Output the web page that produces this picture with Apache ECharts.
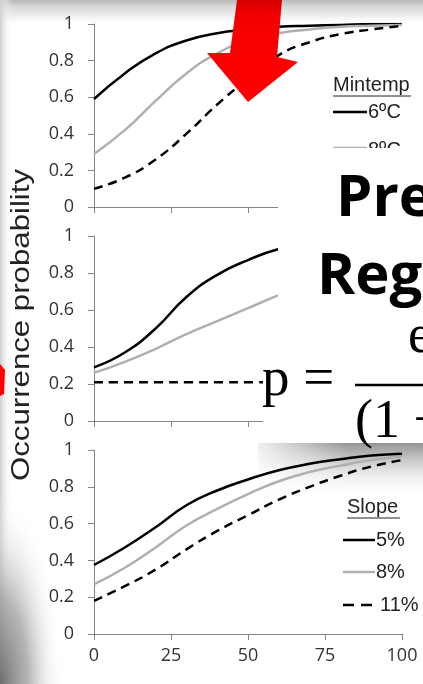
<!DOCTYPE html>
<html>
<head>
<meta charset="utf-8">
<script src="https://cdn.jsdelivr.net/npm/echarts@6/dist/echarts.min.js"></script>
<style>
    html, body {margin: 0; padding: 0; background: #fff;}
    #main {width: 423px; height: 684px;}
</style>
</head>
<body>
<div id="main"></div>
<script>
// x positions shared by every curve
var xVals = [0, 10, 20, 30, 40, 50, 60, 70, 80, 90, 100];
var xTicks = [0, 25, 50, 75, 100];
var yTicks = [0, 0.2, 0.4, 0.6, 0.8, 1];

// top panel: Mintemp
var mintemp6 = [0.59, 0.73, 0.84, 0.91, 0.95, 0.97, 0.985, 0.99, 0.995, 1.0, 1.0];
var mintemp8 = [0.29, 0.42, 0.58, 0.73, 0.84, 0.91, 0.95, 0.97, 0.985, 0.99, 0.995];
var mintemp10 = [0.10, 0.16, 0.26, 0.40, 0.56, 0.70, 0.83, 0.90, 0.945, 0.97, 0.99];

// middle panel
var midBlack = [0.29, 0.37, 0.50, 0.67, 0.79, 0.87, 0.93, 0.96, 0.975, 0.985, 0.99];
var midGray = [0.26, 0.32, 0.39, 0.47, 0.54, 0.61, 0.68, 0.74, 0.79, 0.83, 0.87];
var midDash = [0.21, 0.21, 0.21, 0.21, 0.21, 0.21, 0.21, 0.21, 0.21, 0.21, 0.21];

// bottom panel: Slope
var slope5 = [0.375, 0.47, 0.58, 0.70, 0.78, 0.84, 0.89, 0.925, 0.95, 0.97, 0.98];
var slope8 = [0.27, 0.36, 0.47, 0.59, 0.68, 0.76, 0.83, 0.88, 0.915, 0.945, 0.965];
var slope11 = [0.18, 0.26, 0.35, 0.46, 0.56, 0.645, 0.73, 0.80, 0.86, 0.91, 0.945];

var yTitle = 'Occurrence probability';
var mintempNames = ['6\u00baC', '8\u00baC'];
var slopeNames = ['5%', '8%', '11%'];

function pairs(ys) {
    return xVals.map(function (x, i) { return [x, ys[i]]; });
}

var axisColor = '#868686';
var labelFont = {color: '#333', fontFamily: 'Open Sans', fontSize: 18};

function makeX(idx, showLabel) {
    return {
        type: 'value', gridIndex: idx, min: xTicks[0], max: xTicks[xTicks.length - 1],
        interval: xTicks[1] - xTicks[0],
        axisLine: {lineStyle: {color: axisColor, width: 1}},
        axisTick: {show: true, length: 6, lineStyle: {color: axisColor}},
        splitLine: {show: false},
        axisLabel: Object.assign({show: showLabel, margin: 13}, labelFont)
    };
}
function makeY(idx) {
    return {
        type: 'value', gridIndex: idx, min: yTicks[0], max: yTicks[yTicks.length - 1],
        interval: yTicks[1] - yTicks[0],
        axisLine: {show: true, lineStyle: {color: axisColor, width: 1}},
        axisTick: {show: true, length: 6, lineStyle: {color: axisColor}},
        splitLine: {show: false},
        axisLabel: Object.assign({margin: 20}, labelFont)
    };
}
function curve(idx, ys, color, dash) {
    return {
        type: 'line', xAxisIndex: idx, yAxisIndex: idx, data: pairs(ys),
        smooth: 0.5, symbol: 'none', silent: true,
        lineStyle: {color: color, width: 2.5, type: dash ? [9, 6] : 'solid'}
    };
}

var chart = echarts.init(document.getElementById('main'));
var legendText = {fontFamily: 'Liberation Sans', fontSize: 20, fill: '#222', verticalAlign: 'middle'};

var option = {
    animation: false,
    grid: [
        {left: 94, right: 21, top: 24, height: 183},
        {left: 94, right: 21, top: 236, height: 185},
        {left: 94, right: 21, top: 450, height: 184}
    ],
    xAxis: [makeX(0, false), makeX(1, false), makeX(2, true)],
    yAxis: [makeY(0), makeY(1), makeY(2)],
    series: [
        curve(0, mintemp6, '#000', false),
        curve(0, mintemp8, '#b0b0b0', false),
        curve(0, mintemp10, '#000', true),
        curve(1, midBlack, '#000', false),
        curve(1, midGray, '#b0b0b0', false),
        curve(1, midDash, '#000', true),
        curve(2, slope5, '#000', false),
        curve(2, slope8, '#b0b0b0', false),
        curve(2, slope11, '#000', true)
    ],
    graphic: [
        // slide background shading
        {type: 'rect', z: -1, shape: {x: 0, y: 0, width: 423, height: 26},
            style: {fill: new echarts.graphic.LinearGradient(0, 0, 0, 1, [
                {offset: 0, color: '#b8b8b8'}, {offset: 0.25, color: '#d8d8d8'},
                {offset: 0.6, color: '#ededed'}, {offset: 1, color: 'rgba(255,255,255,0)'}])}},
        {type: 'rect', z: -1, shape: {x: 0, y: 0, width: 12, height: 684},
            style: {fill: new echarts.graphic.LinearGradient(0, 0, 1, 0, [
                {offset: 0, color: '#cfcfcf'}, {offset: 1, color: 'rgba(255,255,255,0)'}])}},
        {type: 'circle', z: -1, x: 0, y: 684, scaleX: 0.33,
            shape: {cx: 0, cy: 0, r: 190},
            style: {fill: new echarts.graphic.RadialGradient(0.5, 0.5, 0.5, [
                {offset: 0, color: 'rgba(105,105,105,0.95)'}, {offset: 0.45, color: 'rgba(150,150,150,0.7)'},
                {offset: 1, color: 'rgba(255,255,255,0)'}])}},
        // shadow under formula box
        {type: 'rect', z: -1, shape: {x: 258, y: 443, width: 165, height: 55},
            style: {fill: new echarts.graphic.LinearGradient(0, 0, 0, 1, [
                {offset: 0, color: 'rgba(110,110,110,0.75)'}, {offset: 0.4, color: 'rgba(160,160,160,0.45)'},
                {offset: 1, color: 'rgba(255,255,255,0)'}])}},
        {type: 'rect', z: -1, shape: {x: 258, y: 443, width: 90, height: 55},
            style: {fill: new echarts.graphic.LinearGradient(0, 0, 1, 0, [
                {offset: 0, color: 'rgba(255,255,255,0.85)'}, {offset: 1, color: 'rgba(255,255,255,0)'}])}},

        // y axis title
        {type: 'text', x: 22, y: 325, rotation: Math.PI / 2, scaleX: 1.2, z: 10,
            style: {text: yTitle, fontFamily: 'Liberation Sans', fontSize: 26, fill: '#222',
                align: 'center', verticalAlign: 'middle'}},

        // Mintemp legend
        {type: 'text', x: 333, y: 85, z: 10, style: Object.assign({text: 'Mintemp'}, legendText)},
        {type: 'line', z: 10, shape: {x1: 333, y1: 96, x2: 411, y2: 96}, style: {stroke: '#222', lineWidth: 1}},
        {type: 'line', z: 10, shape: {x1: 333, y1: 112, x2: 367, y2: 112}, style: {stroke: '#000', lineWidth: 2.5}},
        {type: 'text', x: 368, y: 112, z: 10, style: Object.assign({text: mintempNames[0]}, legendText)},
        {type: 'line', z: 10, shape: {x1: 333, y1: 148, x2: 367, y2: 148}, style: {stroke: '#b0b0b0', lineWidth: 2.5}},
        {type: 'text', x: 368, y: 150, z: 10, style: Object.assign({text: mintempNames[1]}, legendText)},

        // Slope legend
        {type: 'text', x: 347, y: 507, z: 10, style: Object.assign({text: 'Slope'}, legendText)},
        {type: 'line', z: 10, shape: {x1: 347, y1: 518, x2: 400, y2: 518}, style: {stroke: '#222', lineWidth: 1}},
        {type: 'line', z: 10, shape: {x1: 343, y1: 540, x2: 375, y2: 540}, style: {stroke: '#000', lineWidth: 2.5}},
        {type: 'text', x: 376, y: 540, z: 10, style: Object.assign({text: slopeNames[0]}, legendText)},
        {type: 'line', z: 10, shape: {x1: 343, y1: 572, x2: 375, y2: 572}, style: {stroke: '#b0b0b0', lineWidth: 2.5}},
        {type: 'text', x: 376, y: 572, z: 10, style: Object.assign({text: slopeNames[1]}, legendText)},
        {type: 'line', z: 10, shape: {x1: 343, y1: 605, x2: 377, y2: 605},
            style: {stroke: '#000', lineWidth: 2.5, lineDash: [11, 7]}},
        {type: 'text', x: 380, y: 605, z: 10, style: Object.assign({text: slopeNames[2]}, legendText)},

        // slide overlay boxes
        {type: 'rect', z: 100, shape: {x: 278, y: 148, width: 145, height: 175}, style: {fill: '#fff'}},
        {type: 'rect', z: 100, shape: {x: 263, y: 323, width: 160, height: 120}, style: {fill: '#fff'}},
        {type: 'text', x: 336, y: 199, z: 101,
            style: {text: 'Pre', fontFamily: 'Open Sans', fontWeight: 'bold', fontSize: 58, fill: '#000', verticalAlign: 'middle'}},
        {type: 'text', x: 317, y: 277, z: 101,
            style: {text: 'Reg', fontFamily: 'Open Sans', fontWeight: 'bold', fontSize: 58, fill: '#000', verticalAlign: 'middle'}},
        {type: 'text', x: 262, y: 381, z: 101,
            style: {text: 'p =', fontFamily: 'Liberation Serif', fontSize: 55, fill: '#000', verticalAlign: 'middle'}},
        {type: 'line', z: 101, shape: {x1: 355, y1: 385, x2: 423, y2: 385}, style: {stroke: '#000', lineWidth: 2.5}},
        {type: 'text', x: 408, y: 338, z: 101,
            style: {text: 'e', fontFamily: 'Liberation Serif', fontSize: 54, fill: '#000', verticalAlign: 'middle'}},
        {type: 'text', x: 355, y: 423, z: 101,
            style: {text: '(1 +', fontFamily: 'Liberation Serif', fontSize: 54, fill: '#000', verticalAlign: 'middle'}},

        // red arrows
        {type: 'polygon', z: 110,
            shape: {points: [[237, 0], [282, 0], [277, 57], [298, 62], [248, 102], [207, 53], [230, 53]]},
            style: {fill: new echarts.graphic.LinearGradient(0, 0, 0, 1, [
                {offset: 0, color: '#d20000'}, {offset: 0.15, color: '#f40000'}, {offset: 1, color: '#ff0000'}])}},
        {type: 'polygon', z: 110, shape: {points: [[0, 364], [5, 370], [4, 394], [0, 396]]}, style: {fill: '#ff0000'}}
    ]
};
chart.setOption(option);
</script>
</body>
</html>
